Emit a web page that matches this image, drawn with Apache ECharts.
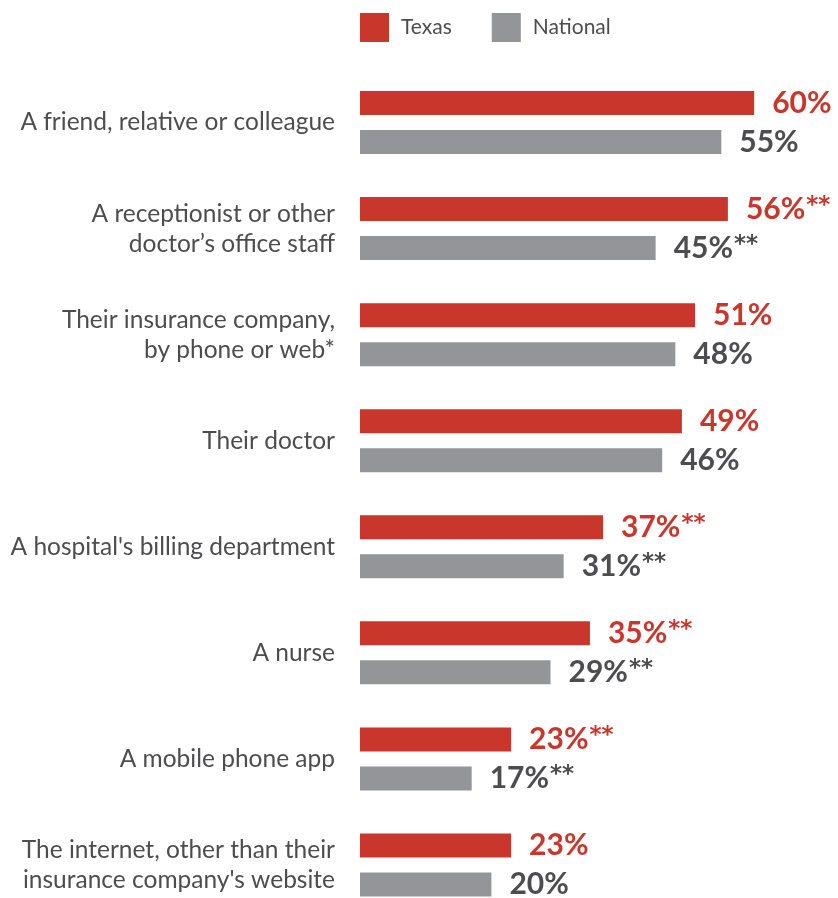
<!DOCTYPE html>
<html>
<head>
<meta charset="utf-8">
<script src="https://cdn.jsdelivr.net/npm/echarts@6/dist/echarts.min.js"></script>
<style>
html,body{margin:0;padding:0;background:#fff;overflow:hidden;}
#chart{width:838px;height:920px;}
</style>
</head>
<body>
<div id="chart"></div>
<script>
var categories = [
  "A friend, relative or colleague",
  "A receptionist or other\ndoctor\u2019s office staff",
  "Their insurance company,\nby phone or web*",
  "Their doctor",
  "A hospital's billing department",
  "A nurse",
  "A mobile phone app",
  "The internet, other than their\ninsurance company's website"
];
var texasValues = [60, 56, 51, 49, 37, 35, 23, 23];
var nationalValues = [55, 45, 48, 46, 31, 29, 17, 20];
var texasMarks = ["", "**", "", "", "**", "**", "**", ""];
var nationalMarks = ["", "**", "", "", "**", "**", "**", ""];

var RED = '#c9372c', GRAY = '#939598', TEXT = '#4d4d4f';
var FONT = 'Lato';

function starStyle(color) {
  return {fontFamily: 'DejaVu Sans', fontWeight: 'bold', fontSize: 23, color: color, padding: [0, 0, 6, 1]};
}

var chart = echarts.init(document.getElementById('chart'), null, {renderer: 'canvas'});
chart.setOption({
  animation: false,
  backgroundColor: '#fff',
  legend: {
    left: 360, top: 13, padding: 0,
    itemWidth: 29, itemHeight: 29, itemGap: 40,
    icon: 'rect',
    textStyle: {fontFamily: FONT, fontSize: 21, color: TEXT, padding: [0, 0, 0, 7]},
    data: ['Texas', 'National']
  },
  grid: {left: 360, top: 69.5, bottom: 2, right: 5, containLabel: false},
  xAxis: {
    type: 'value', min: 0, max: 72,
    show: false
  },
  yAxis: {
    type: 'category', inverse: true, data: categories,
    axisLine: {show: false}, axisTick: {show: false},
    axisLabel: {
      margin: 25, fontFamily: FONT, fontSize: 24.5, color: TEXT,
      lineHeight: 30, align: 'right'
    }
  },
  series: [
    {
      name: 'Texas', type: 'bar', data: texasValues,
      barWidth: 24, barGap: '62.5%',
      itemStyle: {color: RED},
      label: {
        show: true, position: 'right', distance: 18,
        fontFamily: FONT, fontWeight: 'bold', fontSize: 30, color: RED,
        formatter: function (p) {
          var m = texasMarks[p.dataIndex];
          return p.value + '%' + (m ? '{s|' + m + '}' : '');
        },
        rich: {s: starStyle(RED)}
      }
    },
    {
      name: 'National', type: 'bar', data: nationalValues,
      barWidth: 24,
      itemStyle: {color: GRAY},
      label: {
        show: true, position: 'right', distance: 18,
        fontFamily: FONT, fontWeight: 'bold', fontSize: 30, color: TEXT,
        formatter: function (p) {
          var m = nationalMarks[p.dataIndex];
          return p.value + '%' + (m ? '{s|' + m + '}' : '');
        },
        rich: {s: starStyle(TEXT)}
      }
    }
  ]
});
</script>
</body>
</html>
